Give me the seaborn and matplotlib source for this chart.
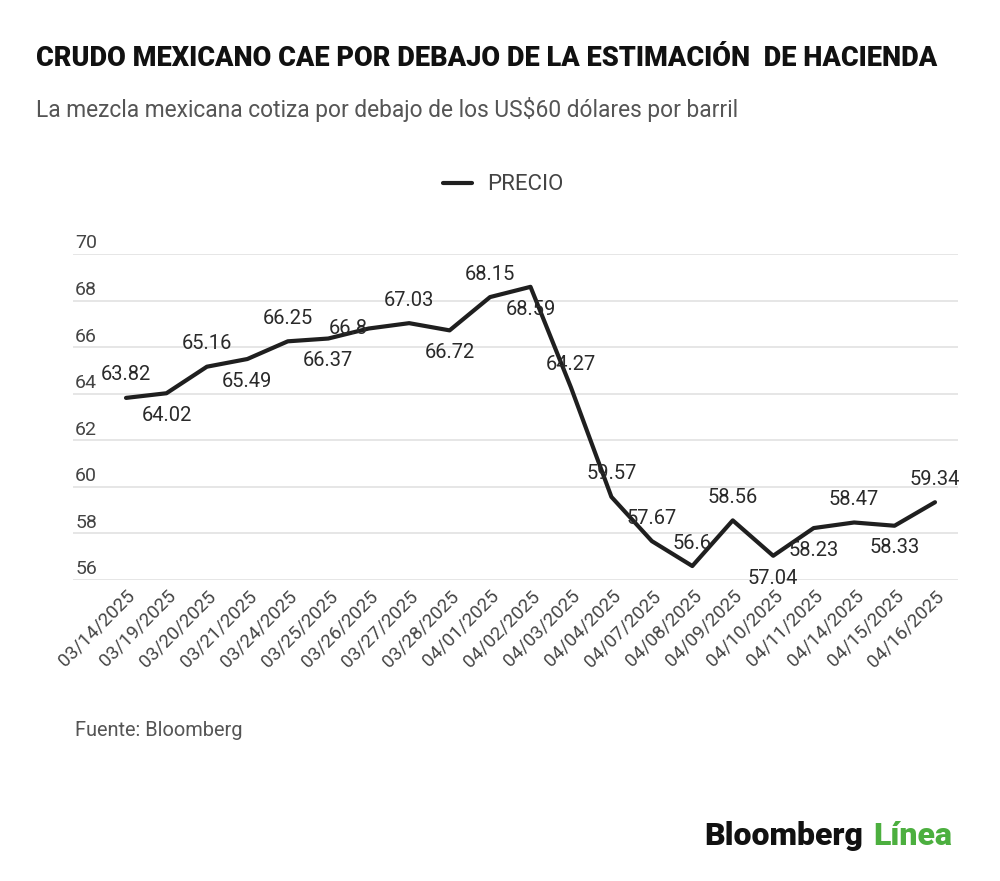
import matplotlib
matplotlib.use("Agg")
import matplotlib.pyplot as plt
import seaborn as sns
import pandas as pd

# Data
dates = ["03/14/2025", "03/19/2025", "03/20/2025", "03/21/2025", "03/24/2025",
         "03/25/2025", "03/26/2025", "03/27/2025", "03/28/2025", "04/01/2025",
         "04/02/2025", "04/03/2025", "04/04/2025", "04/07/2025", "04/08/2025",
         "04/09/2025", "04/10/2025", "04/11/2025", "04/14/2025", "04/15/2025",
         "04/16/2025"]
precio = [63.82, 64.02, 65.16, 65.49, 66.25, 66.37, 66.8, 67.03, 66.72, 68.15,
          68.59, 64.27, 59.57, 57.67, 56.6, 58.56, 57.04, 58.23, 58.47, 58.33,
          59.34]
value_labels = ["63.82", "64.02", "65.16", "65.49", "66.25", "66.37", "66.8",
                "67.03", "66.72", "68.15", "68.59", "64.27", "59.57", "57.67",
                "56.6", "58.56", "57.04", "58.23", "58.47", "58.33", "59.34"]
# where each value label sits relative to its point
label_side = ["a", "b", "a", "b", "a", "b", "l", "a", "b", "a", "b", "a", "a",
              "a", "a", "a", "b", "b", "a", "b", "a"]
y_ticks = [56, 58, 60, 62, 64, 66, 68, 70]

df = pd.DataFrame({"fecha": dates, "PRECIO": precio})

sns.set_style("white")
plt.rcParams["font.family"] = ["Roboto", "DejaVu Sans"]

fig = plt.figure(figsize=(10, 8.81), dpi=100)
ax = fig.add_axes([0.073, 1 - 580 / 881, 0.885, (580 - 254) / 881])

sns.lineplot(data=df, x=range(len(dates)), y="PRECIO", sort=False, ax=ax,
             color="#1f1f1f", linewidth=3.0, label="PRECIO", legend=False)

ax.set_xlim(-53 / 40.45, 20 + 23 / 40.45)
ax.set_ylim(56, 70)
ax.set_yticks(y_ticks)
ax.yaxis.grid(True, color="#e4e4e4", linewidth=1.3)
ax.set_axisbelow(True)
ax.tick_params(axis="y", length=0, labelleft=False)
for s in ax.spines.values():
    s.set_visible(False)
ax.set_xlabel("")
ax.set_ylabel("")

ax.set_xticks(range(len(dates)))
ax.set_xticklabels(dates, rotation=45, ha="right", rotation_mode="anchor",
                   fontsize=13.5, color="#444444")
ax.tick_params(axis="x", length=0, pad=5)
for lbl in ax.get_xticklabels():
    lbl.set_x(lbl.get_position()[0])

# y labels sit above their gridlines
for v in y_ticks:
    ax.annotate(str(v), xy=(0, v), xycoords=ax.get_yaxis_transform(),
                xytext=(1.5, 4), textcoords="offset points",
                ha="left", va="baseline", fontsize=14, color="#444444")

# value labels
for i, (v, t, side) in enumerate(zip(precio, value_labels, label_side)):
    if side == "a":
        off = (0, 16.5)
    elif side == "b":
        off = (0, -16)
    else:
        off = (-15, 0)
    ax.annotate(t, xy=(i, v), xytext=off, textcoords="offset points",
                ha="center", va="center", fontsize=14.5, color="#2a2a2a")

# legend
fig.legend(handles=ax.get_lines()[:1], labels=["PRECIO"], loc="center",
           bbox_to_anchor=(0.503, 1 - 185 / 881), frameon=False, fontsize=16,
           handlelength=1.3, handletextpad=0.7, labelcolor="#444444")

fig.text(0.036, 1 - 58 / 881, "CRUDO MEXICANO CAE POR DEBAJO DE LA ESTIMACIÓN  DE HACIENDA",
         fontsize=19.5, fontweight="heavy", color="#111111", va="center", ha="left")
fig.text(0.036, 1 - 110 / 881,
         "La mezcla mexicana cotiza por debajo de los US$60 dólares por barril",
         fontsize=16.4, color="#555555", va="center", ha="left")
fig.text(0.075, 1 - 730 / 881, "Fuente: Bloomberg", fontsize=14.4,
         color="#555555", va="center", ha="left")

fig.text(0.863, 1 - 836 / 881, "Bloomberg", fontsize=23, fontweight="heavy",
         color="#111111", va="center", ha="right")
fig.text(0.873, 1 - 836 / 881, "Línea", fontsize=23, fontweight="heavy",
         color="#4caf3f", va="center", ha="left")

fig.savefig("out.png", dpi=100)
